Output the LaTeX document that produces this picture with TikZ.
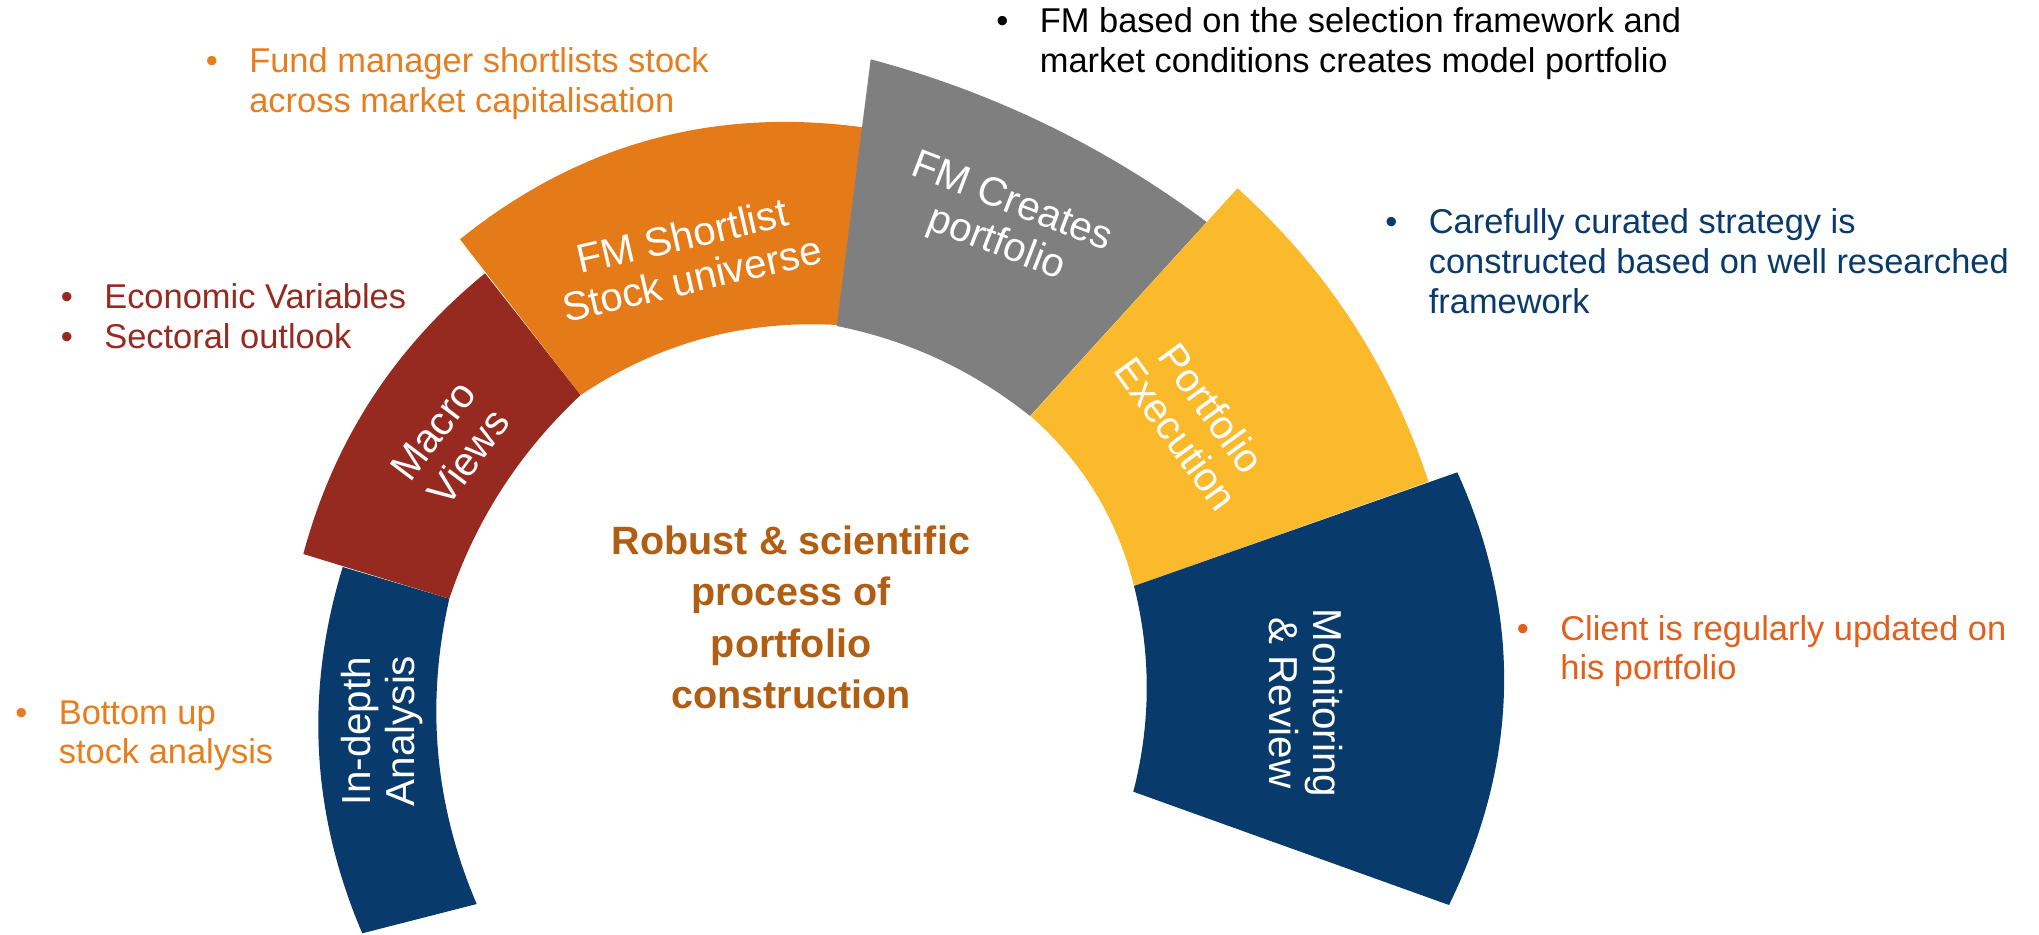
\documentclass[tikz,border=0pt]{standalone}
\usepackage{fontspec}
\setmainfont{Liberation Sans}
\usepackage{xcolor}
\usepackage{tikz}

\definecolor{NavyBand}{RGB}{8,59,108}
\definecolor{RustBand}{RGB}{150,42,32}
\definecolor{OrangeBand}{RGB}{229,122,24}
\definecolor{GreyBand}{RGB}{127,127,127}
\definecolor{GoldBand}{RGB}{251,185,44}
\definecolor{BrownText}{RGB}{176,94,20}
\definecolor{OrangeText}{RGB}{232,125,30}
\definecolor{ClientText}{RGB}{226,96,28}

% bullet with a fixed gap before the text
\newcommand{\NoteDot}{\makebox[0.87cm][l]{\textbullet}}

\tikzset{%Global config
	%Styles
	Band/.style={
		fill=#1,
		draw=none,
	},
	BandText/.style={
		text=white,
		font=\fontsize{23}{25}\selectfont,
		align=center,
		inner sep=0pt,
	},
	Note/.style={
		text=#1,
		anchor=base west,
		inner sep=0pt,
		font=\fontsize{19.6}{22.7}\selectfont,
	},
	Centre/.style={
		text=BrownText,
		anchor=base,
		inner sep=0pt,
		font=\fontsize{22.5}{29.3}\selectfont\bfseries,
	}
}

\begin{document}
\begin{tikzpicture}[x=0.02cm, y=-0.02cm]
		\useasboundingbox (0,0) rectangle (2039,934);
		
		% In-depth analysis
		\fill[Band=NavyBand] (342.7,567) .. controls (304.6,691.6) and (311.1,813.7) .. (362.3,933.3)
			-- (476.7,904) .. controls (434.5,805.1) and (425.4,703.3) .. (449.3,598.7) -- cycle;
		% Macro views
		\fill[Band=RustBand] (303.3,554) -- (449.3,598.7) .. controls (475.8,519.8) and (519.6,452.2) .. (580.7,395)
			-- (485,273.3) .. controls (394.3,347.4) and (333.7,440.9) .. (303.3,554) -- cycle;
		% Shortlist
		\fill[Band=OrangeBand] (460,239.3) -- (580.7,395) .. controls (658.4,343) and (743.9,319.7) .. (837.3,325)
			-- (862.7,127.3) .. controls (712.4,106.9) and (578.2,144.2) .. (460,239.3) -- cycle;
		% Model portfolio
		\fill[Band=GreyBand] (836.7,326) -- (870.7,59.3) .. controls (993.1,92) and (1105.1,146.3) .. (1206.7,222)
			-- (1030,416) .. controls (972.9,370.3) and (908.4,340.3) .. (836.7,326) -- cycle;
		% Execution
		\fill[Band=GoldBand] (1237.5,188.3) -- (1030.5,416) .. controls (1082.7,461.9) and (1117.2,518.5) .. (1134,586)
			-- (1428.5,481.7) .. controls (1390.8,367) and (1327.2,269.2) .. (1237.5,188.3) -- cycle;
		% Monitoring
		\fill[Band=NavyBand] (1134,586) -- (1457.3,472.3) .. controls (1522.4,615.7) and (1519.6,759.9) .. (1449,905)
			-- (1133.3,791.7) .. controls (1151,723.1) and (1151.2,654.5) .. (1134,586) -- cycle;
		
		% band labels
		\node[BandText, rotate=90] (indepth) at (382,731) {In-depth\\Analysis};
		\node[BandText, rotate=53] (macro) at (451,444) {Macro\\Views};
		\node[BandText, rotate=13] (shortlist) at (687,257) {FM Shortlist\\Stock universe};
		\node[BandText, rotate=-21] (creates) at (1004,224) {FM Creates\\portfolio};
		\node[BandText, rotate=-54] (execution) at (1194,421) {Portfolio\\Execution};
		\node[BandText, rotate=-90] (monitor) at (1306,703) {Monitoring\\\& Review};
		
		\node[Centre] (centre) at (791,554.3) {\begin{tabular}[t]{@{}c@{}}Robust \& scientific\\process of\\portfolio\\construction\end{tabular}};
		
		% side notes
		\node[Note=OrangeText] (fundmgr) at (205.5,72.7) {\begin{tabular}[t]{@{}l@{}l@{}}\NoteDot & Fund manager shortlists stock\\ & across market capitalisation\end{tabular}};
		\node[Note=black] (modelpf) at (996,32.3) {\begin{tabular}[t]{@{}l@{}l@{}}\NoteDot & FM based on the selection framework and\\ & market conditions creates model portfolio\end{tabular}};
		\node[Note=RustBand] (economy) at (60.5,308.3) {\begin{tabular}[t]{@{}l@{}l@{}}\NoteDot & Economic Variables\\ \NoteDot & Sectoral outlook\end{tabular}};
		\node[Note=OrangeText] (bottomup) at (15,724) {\begin{tabular}[t]{@{}l@{}l@{}}\NoteDot & Bottom up\\ & stock analysis\end{tabular}};
		\node[Note=NavyBand] (strategy) at (1385,233.3) {\begin{tabular}[t]{@{}l@{}l@{}}\NoteDot & Carefully curated strategy is\\ & constructed based on well researched\\ & framework\end{tabular}};
		\node[Note=ClientText] (client) at (1516.5,640) {\begin{tabular}[t]{@{}l@{}l@{}}\NoteDot & Client is regularly updated on\\ & his portfolio\end{tabular}};
	\end{tikzpicture}
\end{document}
